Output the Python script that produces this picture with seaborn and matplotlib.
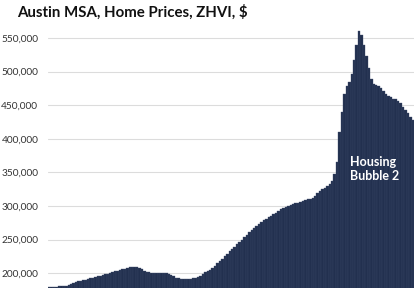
import matplotlib
matplotlib.use("Agg")
import matplotlib.pyplot as plt
import seaborn as sns
import pandas as pd

# Monthly ZHVI values (thousands of $)
zhvi_k = [
    179, 179.5, 180, 180, 180.5, 181, 181, 181.5, 183, 184.5,
    186, 187, 188, 189, 190, 190.5, 191.5, 192.5, 193.5, 194.5,
    195.5, 196, 197, 198.5, 199.5, 200.5, 202, 203, 204, 205,
    206, 207, 208, 209, 209.5, 209.5, 209, 208, 206.5, 204,
    202, 201.5, 201, 200.5, 200.5, 200, 200, 200, 200, 199,
    197.5, 195.5, 193.5, 192.5, 192, 192, 192, 192, 192, 192.5,
    193.5, 195, 196.5, 198.5, 201.5, 203.5, 205, 208, 211, 214.5,
    218, 221.5, 225, 229, 232.5, 236, 239.5, 243, 246.5, 250,
    253.5, 257, 261, 264, 267, 270, 273, 276, 278.5, 280.5,
    283, 285, 287.5, 290, 292.5, 295, 297, 298.5, 300, 302,
    303, 304, 305, 306.5, 308, 309, 310, 311, 312.5, 315.5,
    319.5, 322, 325, 327.5, 330, 333, 338, 348, 366, 410,
    440, 467, 478, 484, 497, 518, 540, 560, 554, 540,
    524, 505, 489, 482, 480, 478, 476, 471, 467, 464,
    462, 460, 459, 457, 453, 448, 443, 438, 433, 428,
]
period = list(range(len(zhvi_k)))
ytick_values = [200000, 250000, 300000, 350000, 400000, 450000, 500000, 550000]
title = "Austin MSA, Home Prices, ZHVI, $"
annotation = "Housing\nBubble 2"

df = pd.DataFrame({"period": period, "zhvi": [v * 1000 for v in zhvi_k]})

sns.set_style("white")
plt.rcParams["font.family"] = ["Lato", "DejaVu Sans"]

fig = plt.figure(figsize=(4.16, 2.88), dpi=100)
ax = fig.add_axes([48 / 416, 0.0, 366 / 416, 1 - 28 / 288])

bar_color = "#22304f"
sns.barplot(data=df, x="period", y="zhvi", color=bar_color, width=1.0,
            saturation=1, edgecolor="#3c4a6a", linewidth=0.25, ax=ax, zorder=2)

ax.set_ylim(178000, 565000)
ax.set_yticks(ytick_values)
ax.set_yticklabels([f"{v:,}" for v in ytick_values], fontsize=7.3, color="#333333")
ax.yaxis.grid(True, color="#dcdcdc", linewidth=0.8, zorder=0)
ax.set_axisbelow(True)
ax.tick_params(axis="y", length=0, pad=7)
ax.set_xticks([])
ax.set_xlabel("")
ax.set_ylabel("")
for s in ax.spines.values():
    s.set_visible(False)

fig.text(17 / 416, 1 - 12 / 288, title, fontsize=10.8, fontweight="bold",
         color="#111111", va="center", ha="left")
ax.text(0.826, 0.458, annotation, transform=ax.transAxes, fontsize=9,
        fontweight="bold", color="white", ha="left", va="center", linespacing=1.2)

fig.savefig("out.png", dpi=100)
